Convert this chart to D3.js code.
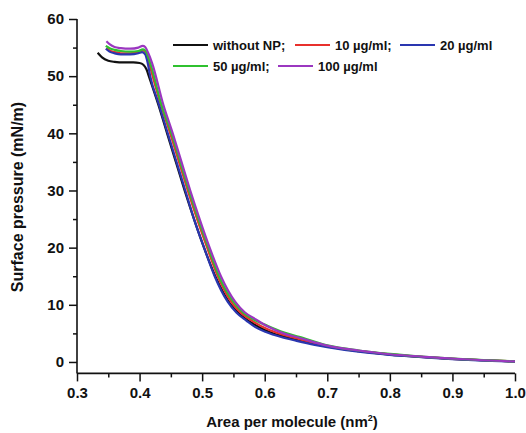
<!DOCTYPE html>
<html>
<head>
<meta charset="utf-8">
<script src="https://cdn.jsdelivr.net/npm/d3@7"></script>
<style>
  body { margin: 0; background: #fff; }
  text { font-family: Arial, "Liberation Sans", sans-serif; font-weight: bold; fill: #111; }
</style>
</head>
<body>
<div id="chart"></div>
<script>
let w = 526,
    h = 433;

// isotherm data: [area per molecule (nm^2), surface pressure (mN/m)]
let withoutNP = [
  [0.333, 54.1], [0.340, 53.3], [0.350, 52.7], [0.360, 52.5], [0.375, 52.4], [0.390, 52.4],
  [0.400, 52.3], [0.406, 52.0], [0.411, 51.2], [0.416, 49.6], [0.430, 45.0], [0.444, 40.0],
  [0.458, 35.0], [0.472, 30.0], [0.487, 25.0], [0.503, 20.0], [0.521, 15.0], [0.544, 10.3],
  [0.560, 8.4], [0.577, 7.0], [0.600, 5.6], [0.625, 4.6], [0.655, 3.8], [0.700, 2.7],
  [0.750, 1.9], [0.800, 1.3], [0.850, 0.9], [0.900, 0.55], [0.950, 0.3], [1.000, 0.08]
];
let np10 = [
  [0.347, 54.9], [0.352, 54.5], [0.360, 54.2], [0.370, 54.0], [0.385, 54.0], [0.398, 54.2],
  [0.405, 54.5], [0.409, 54.3], [0.414, 53.0], [0.419, 50.8], [0.434, 45.0], [0.449, 40.0],
  [0.463, 35.0], [0.477, 30.0], [0.492, 25.0], [0.508, 20.0], [0.525, 15.0], [0.548, 10.3],
  [0.563, 8.5], [0.580, 7.2], [0.603, 5.8], [0.628, 4.8], [0.655, 4.0], [0.700, 2.8],
  [0.750, 1.95], [0.800, 1.35], [0.850, 0.9], [0.900, 0.55], [0.950, 0.3], [1.000, 0.1]
];
let np20 = [
  [0.346, 54.8], [0.352, 54.3], [0.360, 54.0], [0.370, 53.8], [0.385, 53.8], [0.398, 54.0],
  [0.404, 54.2], [0.409, 53.8], [0.413, 52.3], [0.417, 50.0], [0.431, 45.0], [0.445, 40.0],
  [0.459, 35.0], [0.473, 30.0], [0.487, 25.0], [0.503, 20.0], [0.520, 15.0], [0.541, 10.5],
  [0.555, 8.6], [0.571, 7.2], [0.585, 6.1], [0.603, 5.2], [0.625, 4.4], [0.651, 3.7],
  [0.680, 3.0], [0.700, 2.6], [0.750, 1.8], [0.800, 1.25], [0.850, 0.85], [0.900, 0.5],
  [0.950, 0.25], [1.000, 0.05]
];
let np50 = [
  [0.346, 55.3], [0.352, 54.9], [0.360, 54.6], [0.370, 54.4], [0.385, 54.3], [0.398, 54.4],
  [0.405, 54.7], [0.409, 54.5], [0.414, 53.3], [0.419, 51.6], [0.435, 45.0], [0.451, 40.0],
  [0.465, 35.0], [0.479, 30.0], [0.494, 25.0], [0.510, 20.0], [0.527, 15.0], [0.550, 10.5],
  [0.566, 8.6], [0.583, 7.4], [0.605, 6.3], [0.630, 5.2], [0.655, 4.4], [0.700, 2.9],
  [0.750, 2.0], [0.800, 1.4], [0.850, 0.95], [0.900, 0.6], [0.950, 0.32], [1.000, 0.1]
];
let np100 = [
  [0.347, 56.1], [0.352, 55.6], [0.360, 55.1], [0.370, 54.9], [0.385, 54.8], [0.398, 55.0],
  [0.405, 55.3], [0.409, 55.1], [0.414, 54.0], [0.420, 52.3], [0.438, 45.0], [0.453, 40.0],
  [0.467, 35.0], [0.481, 30.0], [0.496, 25.0], [0.512, 20.0], [0.530, 15.0], [0.553, 10.5],
  [0.568, 8.7], [0.585, 7.5], [0.605, 6.2], [0.630, 5.0], [0.656, 4.2], [0.700, 2.85],
  [0.750, 2.0], [0.800, 1.35], [0.850, 0.95], [0.900, 0.6], [0.950, 0.3], [1.000, 0.1]
];

let seriesNames = ["without NP;", "10 µg/ml;", "20 µg/ml", "50 µg/ml;", "100 µg/ml"];
let seriesColors = ["#111111", "#e8302c", "#2a36b0", "#2fc12f", "#9b37c0"];
let seriesData = [withoutNP, np10, np20, np50, np100];

let xTicks = [0.3, 0.4, 0.5, 0.6, 0.7, 0.8, 0.9, 1.0];
let xMinor = [0.35, 0.45, 0.55, 0.65, 0.75, 0.85, 0.95];
let yTicks = [0, 10, 20, 30, 40, 50, 60];
let yMinor = [5, 15, 25, 35, 45, 55];

let svg = d3.select("#chart")
            .append("svg")
            .attr("width", w)
            .attr("height", h);

let x = d3.scaleLinear().domain([0.3, 1.0]).range([77, 515]);
let y = d3.scaleLinear().domain([-2, 60]).range([373.4, 19]);

// curves (drawn first so the axes sit on top)
let line = d3.line()
             .x(d => x(d[0]))
             .y(d => y(d[1]))
             .curve(d3.curveMonotoneX);

svg.selectAll(".curve")
   .data(seriesData)
   .enter()
   .append("path")
   .attr("class", "curve")
   .attr("d", line)
   .attr("fill", "none")
   .attr("stroke", (d, i) => seriesColors[i])
   .attr("stroke-width", 2.2);

// x axis
let xAxis = svg.append("g").attr("transform", "translate(0," + y(-2) + ")");
xAxis.call(d3.axisBottom(x).tickValues(xTicks).tickSize(8).tickFormat(d3.format(".1f")));
xAxis.append("g").call(d3.axisBottom(x).tickValues(xMinor).tickSize(4).tickFormat(""))
     .select(".domain").remove();

// y axis
let yAxis = svg.append("g").attr("transform", "translate(" + x(0.3) + ",0)");
yAxis.call(d3.axisLeft(y).tickValues(yTicks).tickSize(8));
yAxis.append("g").call(d3.axisLeft(y).tickValues(yMinor).tickSize(4).tickFormat(""))
     .select(".domain").remove();

svg.selectAll(".domain").attr("stroke", "#111").attr("stroke-width", 1.6);
svg.selectAll(".tick line").attr("stroke", "#111").attr("stroke-width", 1.5);
// plain axis lines, no end caps
xAxis.select(".domain").attr("d", "M" + x(0.3) + ",0H" + x(1.0));
yAxis.select(".domain").attr("d", "M0," + y(60) + "V" + y(-2));

xAxis.selectAll(".tick text")
     .attr("dy", null)
     .attr("y", 25)
     .style("font-size", "15px")
     .style("font-family", "Arial, 'Liberation Sans', sans-serif")
     .style("font-weight", "bold")
     .attr("fill", "#111");
yAxis.selectAll(".tick text")
     .attr("x", -13)
     .style("font-size", "15px")
     .style("font-family", "Arial, 'Liberation Sans', sans-serif")
     .style("font-weight", "bold")
     .attr("fill", "#111");

// axis titles
let xTitle = svg.append("text")
                .attr("x", 292)
                .attr("y", 427)
                .attr("text-anchor", "middle")
                .style("font-size", "15px");
xTitle.append("tspan").text("Area per molecule (nm");
xTitle.append("tspan").attr("dy", -6).style("font-size", "9px").text("2");
xTitle.append("tspan").attr("dy", 6).text(")");

svg.append("text")
   .attr("transform", "translate(23,197) rotate(-90)")
   .attr("text-anchor", "middle")
   .style("font-size", "16px")
   .text("Surface pressure (mN/m)");

// legend
let legendPos = [
  {lx: 173, ly: 45}, {lx: 295, ly: 45}, {lx: 400, ly: 45},
  {lx: 173, ly: 66}, {lx: 278, ly: 66}
];
let legend = svg.selectAll(".legend")
                .data(seriesNames)
                .enter()
                .append("g")
                .attr("class", "legend")
                .attr("transform", (d, i) => "translate(" + legendPos[i].lx + "," + legendPos[i].ly + ")");
legend.append("line")
      .attr("x1", 0).attr("x2", 35)
      .attr("y1", 0).attr("y2", 0)
      .attr("stroke", (d, i) => seriesColors[i])
      .attr("stroke-width", 2);
legend.append("text")
      .attr("x", 40)
      .attr("y", 5)
      .style("font-size", "13px")
      .text(d => d);
</script>
</body>
</html>
